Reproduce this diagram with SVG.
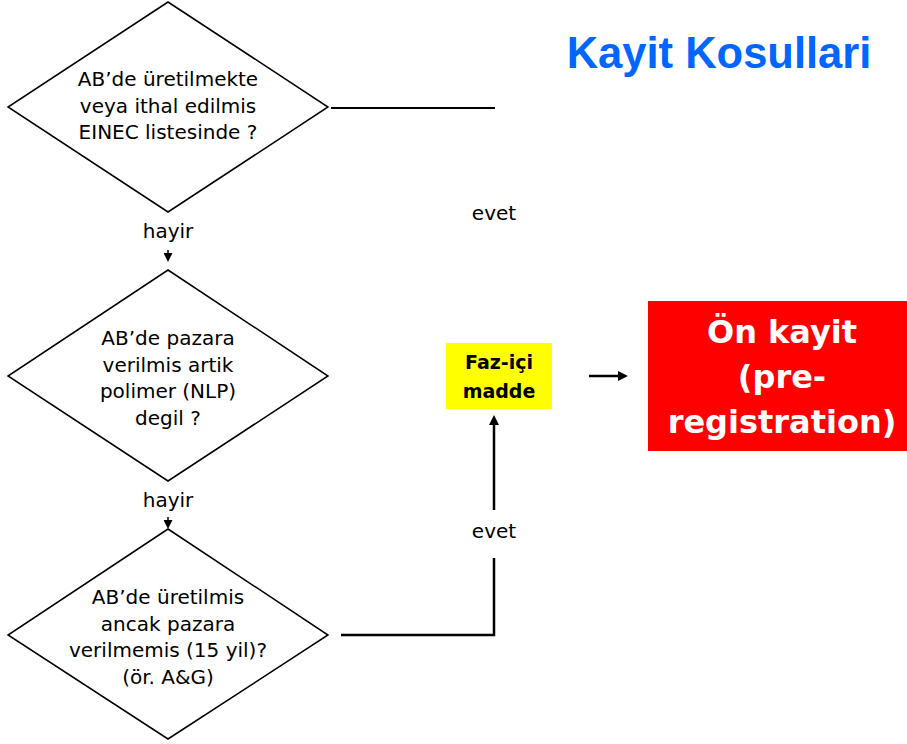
<svg xmlns="http://www.w3.org/2000/svg" width="907" height="744" viewBox="0 0 907 744">
<style>
.dia{fill:#fff;stroke:#000;stroke-width:1.5}
.t{font-family:"DejaVu Sans",sans-serif;font-size:20px;fill:#000;text-anchor:middle}
.lab{font-family:"DejaVu Sans",sans-serif;font-size:20px;fill:#000;text-anchor:middle}
.conn{stroke:#000;fill:none}
.tb{font-family:"DejaVu Sans",sans-serif;font-weight:bold;text-anchor:middle}
</style>
<defs>
<marker id="ah" viewBox="0 0 10 10" refX="0" refY="5" markerUnits="userSpaceOnUse" markerWidth="11" markerHeight="10" orient="auto">
<path d="M0,0 L10,5 L0,10 z" fill="#000"/>
</marker>
<marker id="ahs" viewBox="0 0 10 10" refX="0" refY="5" markerUnits="userSpaceOnUse" markerWidth="9" markerHeight="9" orient="auto">
<path d="M0,0 L10,5 L0,10 z" fill="#000"/>
</marker>
</defs>
<rect width="907" height="744" fill="#fff"/>

<g id="title">
<text x="719" y="68" font-family="Liberation Sans, Arial, sans-serif" font-weight="bold" font-size="43.5" fill="#0066ff" text-anchor="middle">Kayit Kosullari</text>
</g>

<g id="connectors">
<line class="conn" x1="331" y1="108" x2="495" y2="108" stroke-width="2"/>
<text class="lab" x="494" y="220">evet</text>
<line class="conn" x1="168" y1="250" x2="168" y2="253" stroke-width="1.5" marker-end="url(#ahs)"/>
<text class="lab" x="168" y="238">hayir</text>
<line class="conn" x1="168" y1="517" x2="168" y2="520" stroke-width="1.5" marker-end="url(#ahs)"/>
<text class="lab" x="168" y="507">hayir</text>
<polyline class="conn" points="341,635 494,635 494,558" stroke-width="2.5"/>
<line class="conn" x1="494" y1="510" x2="494" y2="425" stroke-width="2.5" marker-end="url(#ah)"/>
<text class="lab" x="494" y="538">evet</text>
<line class="conn" x1="589" y1="376" x2="618" y2="376" stroke-width="2.5" marker-end="url(#ah)"/>
</g>

<g id="q1">
<polygon class="dia" points="168,2 328,107 168,212 8,107"/>
<text class="t" x="168" y="86">AB’de üretilmekte</text>
<text class="t" x="168" y="112.5">veya ithal edilmis</text>
<text class="t" x="168" y="139">EINEC listesinde ?</text>
</g>

<g id="q2">
<polygon class="dia" points="168,270 328,376 168,481 8,376"/>
<text class="t" x="168" y="345">AB’de pazara</text>
<text class="t" x="168" y="371.5">verilmis artik</text>
<text class="t" x="168" y="398">polimer (NLP)</text>
<text class="t" x="168" y="424.5">degil ?</text>
</g>

<g id="q3">
<polygon class="dia" points="168,529 328,635 168,739 8,635"/>
<text class="t" x="168" y="604">AB’de üretilmis</text>
<text class="t" x="168" y="630.5">ancak pazara</text>
<text class="t" x="168" y="657">verilmemis (15 yil)?</text>
<text class="t" x="168" y="683.5">(ör. A&amp;G)</text>
</g>

<g id="fazici">
<rect x="446" y="343" width="106" height="66" fill="#ffff00"/>
<text class="tb" x="499" y="369" font-size="19">Faz-içi</text>
<text class="tb" x="499" y="398" font-size="19">madde</text>
</g>

<g id="onkayit">
<rect x="648" y="301" width="259" height="150" fill="#ff0000"/>
<text class="tb" x="782" y="343" font-size="32" fill="#fff">Ön kayit</text>
<text class="tb" x="782" y="388" font-size="32" fill="#fff">(pre-</text>
<text class="tb" x="782" y="433" font-size="32" fill="#fff">registration)</text>
</g>
</svg>
